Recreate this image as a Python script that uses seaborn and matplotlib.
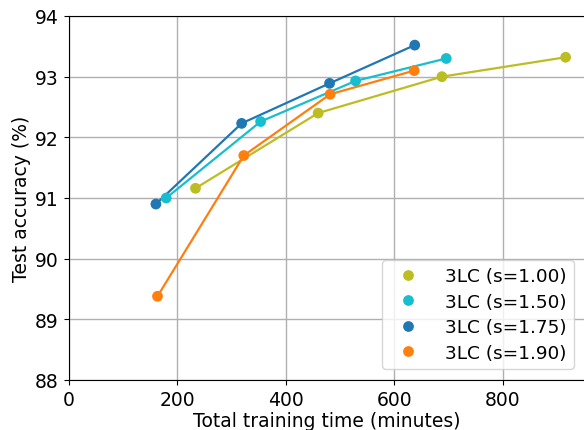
import numpy as np
import pandas as pd
import seaborn as sns
import matplotlib
matplotlib.use("Agg")
import matplotlib.pyplot as plt

# values
labels = ["3LC (s=1.00)", "3LC (s=1.50)", "3LC (s=1.75)", "3LC (s=1.90)"]
colors = ["#bcbd22", "#17becf", "#1f77b4", "#ff7f0e"]

time_s100 = [234, 460, 688, 916]
acc_s100 = [91.16, 92.40, 93.00, 93.32]
time_s150 = [180, 354, 529, 696]
acc_s150 = [91.00, 92.26, 92.93, 93.30]
time_s175 = [161, 319, 481, 638]
acc_s175 = [90.90, 92.23, 92.89, 93.52]
time_s190 = [164, 323, 482, 637]
acc_s190 = [89.38, 91.70, 92.71, 93.10]

times = [time_s100, time_s150, time_s175, time_s190]
accs = [acc_s100, acc_s150, acc_s175, acc_s190]

rows = []
for lab, t, a in zip(labels, times, accs):
    for ti, ai in zip(t, a):
        rows.append({"setting": lab, "time": ti, "acc": ai})
df = pd.DataFrame(rows)
palette = dict(zip(labels, colors))

plt.rcParams["font.size"] = 13.5
fig = plt.figure(figsize=(5.84, 4.31), dpi=100)
ax = fig.add_axes([68.5 / 584, 1 - 381 / 431, 1 - 68.5 / 584 + 0.002, 364 / 431])

sns.lineplot(data=df, x="time", y="acc", hue="setting", palette=palette,
             linewidth=1.6, legend=False, ax=ax, zorder=2)
sns.scatterplot(data=df, x="time", y="acc", hue="setting", palette=palette,
                s=60, edgecolor="none", ax=ax, zorder=3)

ax.set_xlim(0, 952)
ax.set_ylim(88, 94)
ax.set_xticks([0, 200, 400, 600, 800])
ax.set_yticks([88, 89, 90, 91, 92, 93, 94])
ax.grid(True, color="#b0b0b0", linewidth=1.0)
ax.set_axisbelow(True)
ax.tick_params(labelsize=13.5)
ax.set_xlabel("Total training time (minutes)", fontsize=13.5, labelpad=2)
ax.set_ylabel("Test accuracy (%)", fontsize=13.5, labelpad=3)

leg = ax.legend(loc="lower right", fontsize=13.3, markerscale=1.0,
                handletextpad=1.0, labelspacing=0.4, borderaxespad=0.6)

fig.savefig("out.png", dpi=100)
